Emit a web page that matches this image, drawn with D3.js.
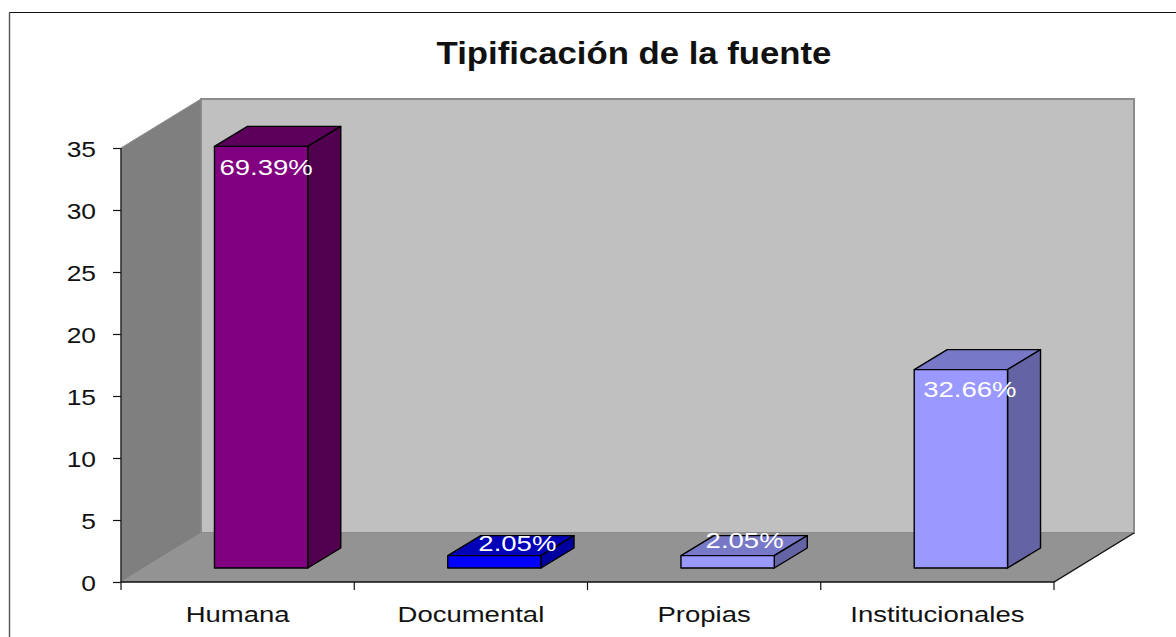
<!DOCTYPE html>
<html><head><meta charset="utf-8">
<script src="https://cdn.jsdelivr.net/npm/d3@7"></script>
<style>html,body{margin:0;padding:0;background:#fff}svg{display:block}text{font-family:"Liberation Sans",Arial,sans-serif}</style>
</head><body><svg id="c" width="1176" height="637"></svg>
<script>
const categories = ["Humana","Documental","Propias","Institucionales"];
const values = [34,1,1,16];
const percentLabels = ["69.39%","2.05%","2.05%","32.66%"];
const frontColors = ["#800080","#0000ff","#9999ff","#9999ff"];
const topColors = ["#5c005c","#0000b8","#7878c8","#7878c8"];
const sideColors = ["#50004f","#0000a0","#6464a4","#6464a4"];
const yTicks = [0,5,10,15,20,25,30,35];
const title = "Tipificación de la fuente";

const labelNudge = [[5,29],[23,-5],[17,-8],[9,27]];
const svg = d3.select("#c");
const x0=121,x1=1054,yB=582,yT=148,dx=80,dy=-49;
const barFloorDx=23.5, barFloorDy=-14, barDepthX=33, barDepthY=-20;
const y = d3.scaleLinear().domain([0,35]).range([yB,yT]);
const xBand = d3.scaleBand().domain(categories).range([x0,x1]);
const xBar = d3.scaleBand().domain(categories).range([x0+barFloorDx,x1+barFloorDx]).paddingInner(0.6).paddingOuter(0.3);
const poly = pts => pts.map(p=>p.join(",")).join(" ");
// the reference's type is stretched horizontally; reproduce that on real text
const stretch = (sel,k) => sel.each(function(){
  const n=this.getComputedTextLength();
  d3.select(this).attr("textLength",n*k).attr("lengthAdjust","spacingAndGlyphs");
});

// frame: only top and left edges are visible in the picture
svg.append("line").attr("x1",9).attr("x2",1176).attr("y1",12.5).attr("y2",12.5).attr("stroke","#111").attr("stroke-width",1.2);
svg.append("line").attr("x1",9.5).attr("x2",9.5).attr("y1",12).attr("y2",637).attr("stroke","#555").attr("stroke-width",1.4);

// walls
svg.append("polygon").attr("points",poly([[x0+dx,yT+dy],[x1+dx,yT+dy],[x1+dx,yB+dy],[x0+dx,yB+dy]])).attr("fill","#c0c0c0").attr("stroke","#8c8c8c").attr("stroke-width",2);
svg.append("polygon").attr("points",poly([[x0,yT],[x0+dx,yT+dy],[x0+dx,yB+dy],[x0,yB]])).attr("fill","#7f7f7f").attr("stroke","#8c8c8c");
svg.append("polygon").attr("points",poly([[x0,yB],[x1,yB],[x1+dx,yB+dy],[x0+dx,yB+dy]])).attr("fill","#939393");
svg.append("path").attr("d",`M${x0},${yB}H${x1}L${x1+dx},${yB+dy}`).attr("fill","none").attr("stroke","#111").attr("stroke-width",1.4);

// axes
const gy = svg.append("g").attr("transform",`translate(${x0},0)`).call(d3.axisLeft(y).tickValues(yTicks).tickSize(8).tickPadding(17));
gy.selectAll("text").attr("font-size",22).attr("fill","#111").attr("y",1).style("font-family",'"Liberation Sans",Arial,sans-serif').call(stretch,1.2);
gy.selectAll("line,path").attr("stroke","#111").attr("stroke-width",1.2);
gy.select("path").attr("d",`M0,${yT}V${yB}`);
const gx = svg.append("g").attr("transform",`translate(0,${yB})`).call(d3.axisBottom(xBand).tickSize(0).tickPadding(24));
gx.select("path").remove();
gx.selectAll("text").attr("font-size",22).attr("fill","#111").style("font-family",'"Liberation Sans",Arial,sans-serif').call(stretch,1.25);
const boundaries = categories.map(c=>xBand(c)).concat([x1]);
svg.append("g").selectAll("line").data(boundaries).join("line")
  .attr("x1",d=>d).attr("x2",d=>d).attr("y1",yB).attr("y2",yB+8).attr("stroke","#111").attr("stroke-width",1.2);

// bars
const bars = svg.append("g").selectAll("g").data(categories).join("g");
const X=c=>xBar(c), W=xBar.bandwidth();
const base=yB+barFloorDy;
const barTop=i=>y(values[i])+barFloorDy;
bars.append("polygon").attr("points",(c,i)=>poly([[X(c),barTop(i)],[X(c)+barDepthX,barTop(i)+barDepthY],[X(c)+W+barDepthX,barTop(i)+barDepthY],[X(c)+W,barTop(i)]])).attr("fill",(c,i)=>topColors[i]);
bars.append("polygon").attr("points",(c,i)=>poly([[X(c)+W,barTop(i)],[X(c)+W+barDepthX,barTop(i)+barDepthY],[X(c)+W+barDepthX,base+barDepthY],[X(c)+W,base]])).attr("fill",(c,i)=>sideColors[i]);
bars.append("rect").attr("x",X).attr("y",(c,i)=>barTop(i)).attr("width",W).attr("height",(c,i)=>base-barTop(i)).attr("fill",(c,i)=>frontColors[i]);
bars.selectAll("polygon,rect").attr("stroke","#000").attr("stroke-width",1.4).attr("stroke-linejoin","round");
bars.append("text").attr("x",(c,i)=>X(c)+W/2+labelNudge[i][0]).attr("y",(c,i)=>barTop(i)+labelNudge[i][1])
  .attr("text-anchor","middle").attr("font-size",22).attr("fill","#fff").text((c,i)=>percentLabels[i]).call(stretch,1.25);

svg.append("text").attr("x",634).attr("y",64).attr("text-anchor","middle").attr("font-size",31).attr("font-weight","bold").attr("fill","#111").text(title).call(stretch,1.12);
</script></body></html>
